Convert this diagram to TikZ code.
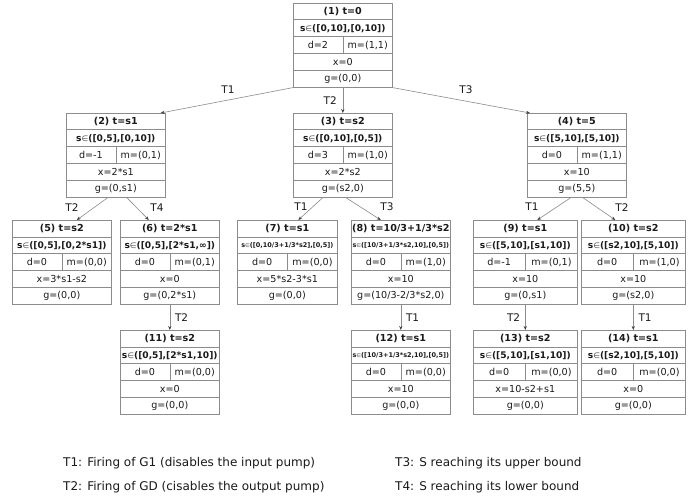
\documentclass[tikz,border=0pt]{standalone}
\usepackage{fontspec}
\setmainfont{DejaVu Sans}
\usetikzlibrary{arrows.meta,calc}
\definecolor{linec}{HTML}{8C8C8C}
\definecolor{textc}{HTML}{1A1A1A}
\newdimen\rowH \rowH=16.8pt
\newcommand{\bxf}{\fontsize{9.6}{10.5}\selectfont}
\newcommand{\sxf}{\fontsize{9.1}{10}\selectfont}
\newcommand{\smf}{\fontsize{6.5}{7}\selectfont\bfseries}
\newcommand{\inn}{{\mdseries\color{black!70}\scalebox{0.85}{∈}}}
\tikzset{
  stbox/.style={draw=linec, line width=0.6pt, rectangle, inner sep=0pt,
    minimum height=84pt, anchor=north west},
  sep/.style={draw=linec, line width=0.6pt},
  cell/.style={inner sep=0pt, text=textc, font=\bxf},
  lbl/.style={inner sep=0pt, text=textc, font=\fontsize{10.5}{12}\selectfont},
  legend/.style={inner sep=0pt, text=textc, anchor=west, font=\fontsize{12}{14}\selectfont},
  conn/.style={draw=linec, line width=0.6pt, -{Stealth[length=4pt,width=3.2pt,color=black!75]}}
}
% #1 name, #2 title, #3 s-row, #4 d, #5 m, #6 x, #7 g
\newcommand{\rowsof}[7]{%
  \foreach \i in {1,2,3,4}
    \draw[sep] ($(#1.north west)+(0,{-\i*\rowH})$) -- ($(#1.north east)+(0,{-\i*\rowH})$);
  \draw[sep] ($(#1.north)+(0,{-2*\rowH})$) -- ($(#1.north)+(0,{-3*\rowH})$);
  \coordinate (#1-dl) at ($(#1.north west)!0.5!(#1.north)$);
  \coordinate (#1-dr) at ($(#1.north east)!0.5!(#1.north)$);
  \node[cell,font=\bxf\bfseries] (#1-t) at ($(#1.north)+(0,{-0.5*\rowH})$) {#2};
  \node[cell,font=\sxf\bfseries] (#1-s) at ($(#1.north)+(0,{-1.5*\rowH})$) {#3};
  \node[cell] (#1-d) at ($(#1-dl)+(0,{-2.5*\rowH})$) {#4};
  \node[cell] (#1-m) at ($(#1-dr)+(0,{-2.5*\rowH})$) {#5};
  \node[cell] (#1-x) at ($(#1.north)+(0,{-3.5*\rowH})$) {#6};
  \node[cell] (#1-g) at ($(#1.north)+(0,{-4.5*\rowH})$) {#7};
}
\begin{document}
\begin{tikzpicture}[x=1pt,y=-1pt]
\fill[white] (0,0) rectangle (694,500);
\useasboundingbox (0,0) rectangle (694,500);

% boxes
\node[stbox, minimum width=99pt]  (b1)  at (293,3)   {};
\node[stbox, minimum width=99pt]  (b2)  at (66,113)  {};
\node[stbox, minimum width=99pt]  (b3)  at (293,113) {};
\node[stbox, minimum width=99pt]  (b4)  at (527,113) {};
\node[stbox, minimum width=99pt]  (b5)  at (12,220)  {};
\node[stbox, minimum width=99pt]  (b6)  at (120,220) {};
\node[stbox, minimum width=100pt] (b7)  at (237,220) {};
\node[stbox, minimum width=99pt]  (b8)  at (351,220) {};
\node[stbox, minimum width=104pt] (b9)  at (473,220) {};
\node[stbox, minimum width=104pt] (b10) at (581,220) {};
\node[stbox, minimum width=99pt]  (b11) at (120,330) {};
\node[stbox, minimum width=99pt]  (b12) at (351,330) {};
\node[stbox, minimum width=104pt] (b13) at (473,330) {};
\node[stbox, minimum width=104pt] (b14) at (581,330) {};

\rowsof{b1}{(1) t=0}{s\inn([0,10],[0,10])}{d=2}{m=(1,1)}{x=0}{g=(0,0)}
\rowsof{b2}{(2) t=s1}{s\inn([0,5],[0,10])}{d=-1}{m=(0,1)}{x=2*s1}{g=(0,s1)}
\rowsof{b3}{(3) t=s2}{s\inn([0,10],[0,5])}{d=3}{m=(1,0)}{x=2*s2}{g=(s2,0)}
\rowsof{b4}{(4) t=5}{s\inn([5,10],[5,10])}{d=0}{m=(1,1)}{x=10}{g=(5,5)}
\rowsof{b5}{(5) t=s2}{s\inn([0,5],[0,2*s1])}{d=0}{m=(0,0)}{x=3*s1-s2}{g=(0,0)}
\rowsof{b6}{(6) t=2*s1}{s\inn([0,5],[2*s1,∞])}{d=0}{m=(0,1)}{x=0}{g=(0,2*s1)}
\rowsof{b7}{(7) t=s1}{\smf s\inn([0,10/3+1/3*s2],[0,5])}{d=0}{m=(0,0)}{x=5*s2-3*s1}{g=(0,0)}
\rowsof{b8}{(8) t=10/3+1/3*s2}{\smf s\inn([10/3+1/3*s2,10],[0,5])}{d=0}{m=(1,0)}{x=10}{g=(10/3-2/3*s2,0)}
\rowsof{b9}{(9) t=s1}{s\inn([5,10],[s1,10])}{d=-1}{m=(0,1)}{x=10}{g=(0,s1)}
\rowsof{b10}{(10) t=s2}{s\inn([s2,10],[5,10])}{d=0}{m=(1,0)}{x=10}{g=(s2,0)}
\rowsof{b11}{(11) t=s2}{s\inn([0,5],[2*s1,10])}{d=0}{m=(0,0)}{x=0}{g=(0,0)}
\rowsof{b12}{(12) t=s1}{\smf s\inn([10/3+1/3*s2,10],[0,5])}{d=0}{m=(0,0)}{x=10}{g=(0,0)}
\rowsof{b13}{(13) t=s2}{s\inn([5,10],[s1,10])}{d=0}{m=(0,0)}{x=10-s2+s1}{g=(0,0)}
\rowsof{b14}{(14) t=s1}{s\inn([s2,10],[5,10])}{d=0}{m=(0,0)}{x=0}{g=(0,0)}

% connectors level 1
\draw[conn] (b1.south west) -- ([xshift=-5pt]b2.north east);
\draw[conn] (b1.south) -- (b3.north);
\draw[conn] (b1.south east) -- ([xshift=3pt]b4.north west);
\node[lbl] (l1) at (228,90) {T1};
\node[lbl, anchor=east] (l2) at (337,101) {T2};
\node[lbl] (l3) at (466,90) {T3};

% connectors level 2
\draw[conn] ([xshift=-8pt]b2.south) -- ([xshift=15pt]b5.north);
\draw[conn] ([xshift=11pt]b2.south) -- ([xshift=-21pt]b6.north);
\draw[conn] ([xshift=-20pt]b3.south) -- ([xshift=11pt]b7.north);
\draw[conn] ([xshift=3pt]b3.south) -- ([xshift=-20pt]b8.north);
\draw[conn] ([xshift=-6pt]b4.south) -- ([xshift=12pt]b9.north);
\draw[conn] ([xshift=6pt]b4.south) -- ([xshift=-18pt]b10.north);
\node[lbl] (l4) at (72,208) {T2};
\node[lbl] (l5) at (157,208) {T4};
\node[lbl] (l6) at (301,207) {T1};
\node[lbl] (l7) at (387,207) {T3};
\node[lbl] (l8) at (532,207) {T1};
\node[lbl] (l9) at (622,208) {T2};

% connectors level 3
\draw[conn] (b6.south) -- (b11.north);
\draw[conn] (b8.south) -- (b12.north);
\draw[conn] (b9.south) -- (b13.north);
\draw[conn] (b10.south) -- (b14.north);
\node[lbl, anchor=west] (l10) at ([xshift=5pt,yshift=-13pt]b6.south) {T2};
\node[lbl, anchor=west] (l11) at ([xshift=5pt,yshift=-13pt]b8.south) {T1};
\node[lbl, anchor=east] (l12) at ([xshift=-5pt,yshift=-13pt]b9.south) {T2};
\node[lbl, anchor=west] (l13) at ([xshift=5pt,yshift=-13pt]b10.south) {T1};

% legend
\node[legend] (g1) at (63,463) {T1: Firing of G1 (disables the input pump)};
\node[legend] (g2) at (63,487) {T2: Firing of GD (cisables the output pump)};
\node[legend] (g3) at (395,463) {T3: S reaching its upper bound};
\node[legend] (g4) at (395,487) {T4: S reaching its lower bound};
\end{tikzpicture}
\end{document}
